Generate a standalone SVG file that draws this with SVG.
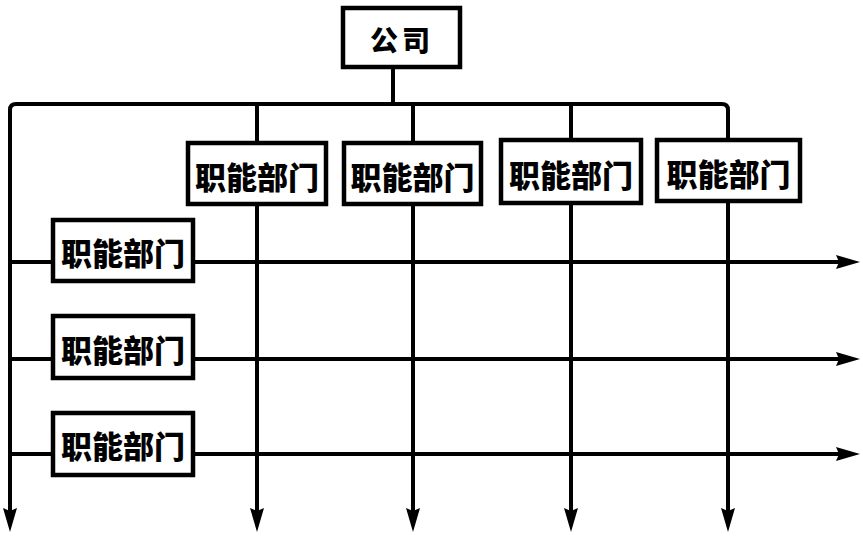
<svg xmlns="http://www.w3.org/2000/svg" width="863" height="540" viewBox="0 0 863 540">
<style>
.ln{fill:none;stroke:#000;stroke-width:4;}
.bx{fill:#fff;stroke:#000;stroke-width:4.5;}
.tx{font-family:"Noto Sans CJK SC","Liberation Sans",sans-serif;font-weight:900;font-size:31px;fill:#000;text-anchor:middle;dominant-baseline:central;}
</style>
<defs>
<marker id="ar" markerUnits="userSpaceOnUse" markerWidth="26" markerHeight="16" refX="12" refY="7" orient="auto" viewBox="0 0 26 16">
<path d="M0,0 L24,7 L0,14 L3,7 Z" fill="#000"/>
</marker>
</defs>
<g id="connectors">
<path class="ln" d="M393,67 V104"/>
<path class="ln" d="M10,520 V110 Q10,104 16,104 H722 Q728,104 728,110 V520" marker-end="url(#ar)"/>
<path class="ln" d="M10,110 V520" marker-end="url(#ar)"/>
<path class="ln" d="M257,104 V520" marker-end="url(#ar)"/>
<path class="ln" d="M413,104 V520" marker-end="url(#ar)"/>
<path class="ln" d="M571,104 V520" marker-end="url(#ar)"/>
<path class="ln" d="M10,262 H848" marker-end="url(#ar)"/>
<path class="ln" d="M10,359 H848" marker-end="url(#ar)"/>
<path class="ln" d="M10,454 H848" marker-end="url(#ar)"/>
</g>
<g id="company">
<rect class="bx" x="343" y="8" width="117" height="59"/>
<text class="tx" x="402" y="39" style="font-size:28px;letter-spacing:4px">公司</text>
</g>
<g id="dept-top-1">
<rect class="bx" x="188" y="143" width="138" height="61"/>
<text class="tx" x="257" y="175">职能部门</text>
</g>
<g id="dept-top-2">
<rect class="bx" x="344" y="143" width="137" height="61"/>
<text class="tx" x="412.5" y="175">职能部门</text>
</g>
<g id="dept-top-3">
<rect class="bx" x="501" y="140" width="140" height="63"/>
<text class="tx" x="571" y="173">职能部门</text>
</g>
<g id="dept-top-4">
<rect class="bx" x="657" y="140" width="143" height="61"/>
<text class="tx" x="728.5" y="172">职能部门</text>
</g>
<g id="dept-left-1">
<rect class="bx" x="53" y="220" width="140" height="61"/>
<text class="tx" x="123" y="251">职能部门</text>
</g>
<g id="dept-left-2">
<rect class="bx" x="53" y="316" width="140" height="62"/>
<text class="tx" x="123" y="348">职能部门</text>
</g>
<g id="dept-left-3">
<rect class="bx" x="53" y="413" width="140" height="62"/>
<text class="tx" x="123" y="444">职能部门</text>
</g>
</svg>
